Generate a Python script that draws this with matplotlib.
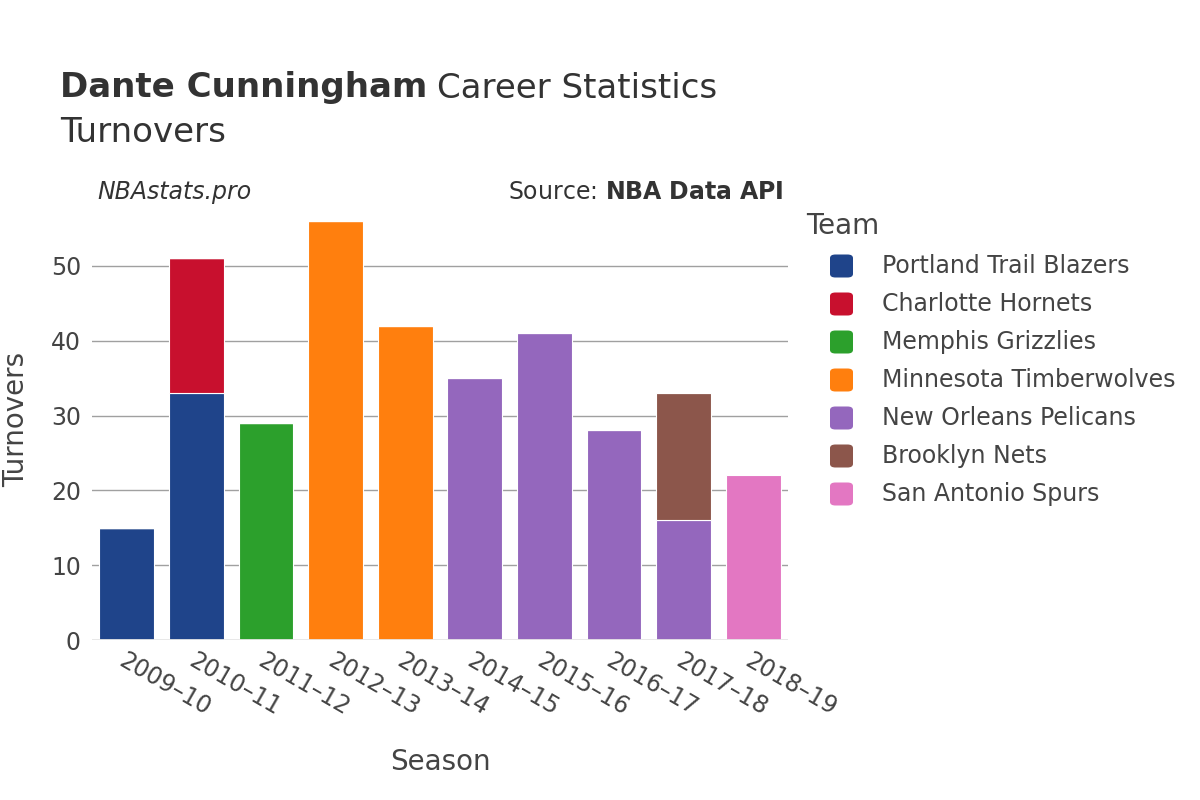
import numpy as np
import matplotlib.pyplot as plt
from matplotlib.patches import FancyBboxPatch

seasons = ["2009–10", "2010–11", "2011–12", "2012–13", "2013–14",
           "2014–15", "2015–16", "2016–17", "2017–18", "2018–19"]
teams = ["Portland Trail Blazers", "Charlotte Hornets", "Memphis Grizzlies",
         "Minnesota Timberwolves", "New Orleans Pelicans", "Brooklyn Nets",
         "San Antonio Spurs"]
colors = ["#1f448a", "#c8102e", "#2ca02c", "#ff7f0e", "#9467bd", "#8c564b", "#e377c2"]

# turnovers per team per season (stacked in team order)
portland = [15, 33, 0, 0, 0, 0, 0, 0, 0, 0]
charlotte = [0, 18, 0, 0, 0, 0, 0, 0, 0, 0]
memphis = [0, 0, 29, 0, 0, 0, 0, 0, 0, 0]
minnesota = [0, 0, 0, 56, 42, 0, 0, 0, 0, 0]
pelicans = [0, 0, 0, 0, 0, 35, 41, 28, 16, 0]
brooklyn = [0, 0, 0, 0, 0, 0, 0, 0, 17, 0]
spurs = [0, 0, 0, 0, 0, 0, 0, 0, 0, 22]
series = [portland, charlotte, memphis, minnesota, pelicans, brooklyn, spurs]

plt.rcParams['font.family'] = ['DejaVu Sans']
fig = plt.figure(figsize=(12, 8), dpi=100)
ax = fig.add_axes([92 / 1200, 160 / 800, 696 / 1200, 440 / 800])

x = np.arange(len(seasons))
bottom = np.zeros(len(seasons))
for team, vals, c in zip(teams, series, colors):
    vals = np.array(vals)
    ax.bar(x, vals, width=0.79, bottom=bottom, color=c, edgecolor="white",
           linewidth=0.8, label=team, zorder=3)
    bottom += vals

ax.set_xlim(-0.5, len(seasons) - 0.5)
ax.set_ylim(0, 58.8)
ax.set_yticks([0, 10, 20, 30, 40, 50])
ax.grid(axis="y", color="#a0a0a0", linewidth=1, zorder=0)
ax.axhline(0, color="#e8e8e8", linewidth=2, zorder=4)
for s in ax.spines.values():
    s.set_visible(False)
ax.tick_params(axis="both", length=0, labelsize=17, labelcolor="#444444")
ax.tick_params(axis="y", pad=8)
ax.set_xticks(x)
ax.set_xticklabels(seasons, rotation=-30, ha="left", rotation_mode="anchor")
ax.tick_params(axis="x", pad=6)

ax.set_xlabel("Season", fontsize=20, color="#444444")
ax.set_ylabel("Turnovers", fontsize=20, color="#444444")
ax.xaxis.set_label_coords(0.5, -0.245)
ax.yaxis.set_label_coords(-0.089, 0.502)

# title: bold name followed by normal text
t1 = fig.text(60 / 1200, 1 - 88 / 800, "Dante Cunningham", fontsize=24.5, fontweight="bold",
              color="#333333", va="center")
fig.canvas.draw()
bb = t1.get_window_extent()
fig.text((bb.x1 + 10) / 1200, 1 - 88 / 800, "Career Statistics", fontsize=24.5,
         color="#333333", va="center")
fig.text(60 / 1200, 1 - 132 / 800, "Turnovers", fontsize=24.5, color="#333333", va="center")
fig.text(97 / 1200, 1 - 192 / 800, "NBAstats.pro", fontsize=17, style="italic",
         color="#333333", va="center")
fig.text(784 / 1200, 1 - 192 / 800, r"Source: $\bf{NBA\ Data\ API}$", fontsize=17,
         color="#333333", va="center", ha="right")

# legend drawn by hand
fig.text(806 / 1200, 1 - 226 / 800, "Team", fontsize=20, color="#444444", va="center")
for i, (team, c) in enumerate(zip(teams, colors)):
    yc = 266 + 38 * i
    box = FancyBboxPatch((830 / 1200, 1 - (yc + 11.5) / 800), 23 / 1200, 23 / 800,
                         boxstyle="round,pad=0,rounding_size=0.0045",
                         transform=fig.transFigure, facecolor=c, edgecolor="none")
    fig.patches.append(box)
    fig.text(882 / 1200, 1 - yc / 800, team, fontsize=17, color="#444444", va="center")

fig.savefig("out.png", dpi=100)
